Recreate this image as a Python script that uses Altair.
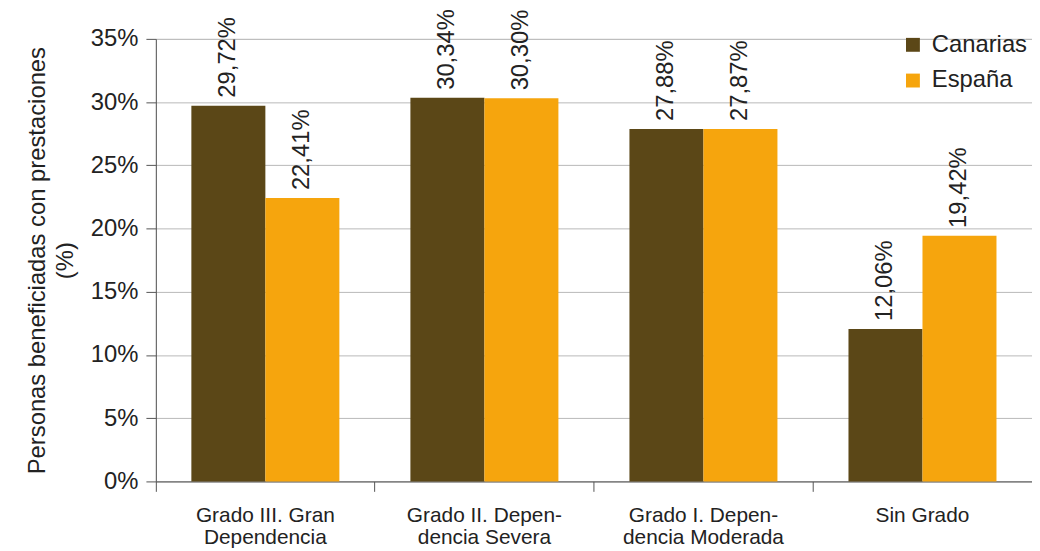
import altair as alt
import pandas as pd

categories = ["Grado III. Gran\nDependencia", "Grado II. Depen-\ndencia Severa",
              "Grado I. Depen-\ndencia Moderada", "Sin Grado"]
series = ["Canarias", "España"]
canarias = [29.72, 30.34, 27.88, 12.06]
espana = [22.41, 30.30, 27.87, 19.42]
colors = ["#5B4717", "#F6A50D"]

rows = []
for c, a, b in zip(categories, canarias, espana):
    rows.append({"cat": c, "serie": "Canarias", "value": a})
    rows.append({"cat": c, "serie": "España", "value": b})
df = pd.DataFrame(rows)

FONT = "Liberation Sans"

x = alt.X("cat:N", sort=categories, title=None,
          scale=alt.Scale(paddingInner=0, paddingOuter=0),
          axis=alt.Axis(labelAngle=0, labelExpr="split(datum.label, '\\n')",
                        labelFontSize=21, labelColor="#222222", labelLineHeight=23,
                        labelPadding=13, tickSize=10, tickColor="#555555",
                        domainColor="#555555", bandPosition=0, labelBaseline="top",
                        labelFont=FONT))
xoff = alt.XOffset("serie:N", sort=series,
                   scale=alt.Scale(paddingInner=0, paddingOuter=0.48))
y = alt.Y("value:Q", title=["Personas beneficiadas con prestaciones", "(%)"],
          scale=alt.Scale(domain=[0, 35]),
          axis=alt.Axis(values=[0, 5, 10, 15, 20, 25, 30, 35],
                        labelExpr="datum.value + '%'", labelFontSize=24,
                        labelColor="#222222", labelPadding=8, tickSize=10,
                        tickColor="#555555", domainColor="#555555",
                        gridColor="#b8b8b8", titleFontSize=24,
                        titleFontWeight="normal", titleColor="#222222",
                        titlePadding=13, titleLineHeight=28, labelFont=FONT,
                        titleFont=FONT))
color = alt.Color("serie:N", sort=series,
                  scale=alt.Scale(domain=series, range=colors),
                  legend=alt.Legend(title=None, orient="none", legendX=751, legendY=-6,
                                    symbolType="square", symbolSize=196,
                                    symbolStrokeWidth=0, labelFontSize=24,
                                    labelFont=FONT, labelColor="#222222",
                                    labelOffset=7, rowPadding=12, padding=0))

base = alt.Chart(df)
bars = base.mark_bar().encode(x=x, xOffset=xoff, y=y, color=color)
labels = base.transform_calculate(
    label="replace(format(datum.value, '.2f'), '.', ',') + '%'"
).mark_text(angle=270, align="left", baseline="middle", dx=8, fontSize=24,
            font=FONT, color="#222222").encode(
    x=alt.X("cat:N", sort=categories), xOffset=alt.XOffset("serie:N", sort=series),
    y="value:Q", text="label:N")

chart = alt.layer(bars, labels).properties(
    width=883, height=446,
    autosize=alt.AutoSizeParams(type="none"),
    padding={"left": 149, "top": 29, "right": 0, "bottom": 66},
).configure_view(stroke=None).configure(font=FONT)

chart.save("out.html", embed_options={"renderer": "svg", "actions": False})
